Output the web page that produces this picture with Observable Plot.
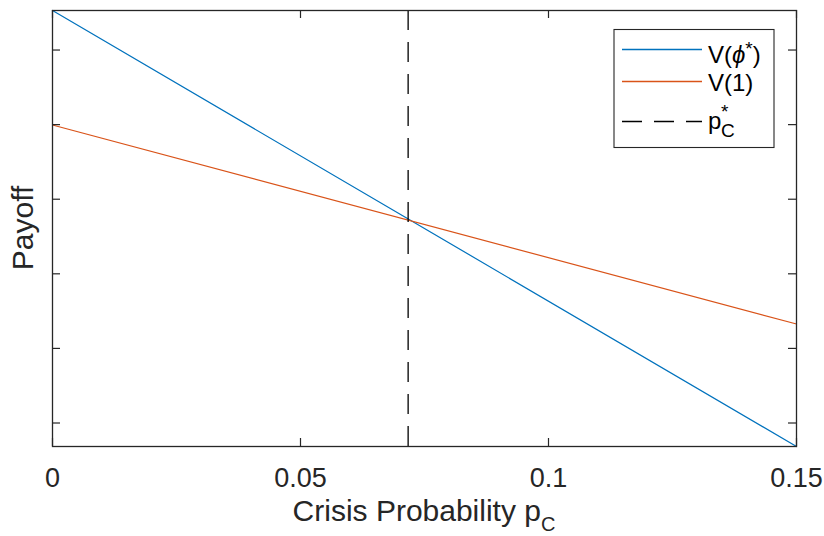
<!DOCTYPE html>
<html>
<head>
<meta charset="utf-8">
<script src="https://cdn.jsdelivr.net/npm/d3@7"></script>
<script src="https://cdn.jsdelivr.net/npm/@observablehq/plot@0.6"></script>
<style>
  html, body { margin: 0; padding: 0; background: white; }
</style>
</head>
<body>
<div id="chart"></div>
<script>
// ---- data ----
const xValues = [0, 0.15];                 // crisis probability p_C
const vPhiStar = [5.53, -0.315];           // V(phi*)
const vOne = [3.995, 1.327];               // V(1)
const pStar = [0.0717];                    // p_C^*
const xTicks = [0, 0.05, 0.1, 0.15];
const xTickLabels = ["0", "0.05", "0.1", "0.15"];
const yTicks = [0, 1, 2, 3, 4, 5];
const yDomain = [-0.315, 5.53];
const seriesNames = ["V(ϕ*)", "V(1)", "p_C^*"];
const seriesColors = ["#0072BD", "#D95319", "#000000"];

const W = 824, H = 536;
const mL = 52, mR = 28, mT = 10, mB = 90;
const plotW = W - mL - mR, plotH = H - mT - mB;
const axisColor = "#262626";
const font = "'Liberation Sans', Arial, Helvetica, sans-serif";

const blueData = xValues.map((x, i) => ({x, y: vPhiStar[i]}));
const redData = xValues.map((x, i) => ({x, y: vOne[i]}));

const svg = Plot.plot({
  width: W, height: H,
  marginLeft: mL, marginRight: mR, marginTop: mT, marginBottom: mB,
  style: {fontFamily: font, background: "white", overflow: "visible"},
  x: {domain: [0, 0.15], axis: null},
  y: {domain: yDomain, axis: null},
  marks: [
    Plot.line(blueData, {x: "x", y: "y", stroke: seriesColors[0], strokeWidth: 1.2}),
    Plot.line(redData, {x: "x", y: "y", stroke: seriesColors[1], strokeWidth: 1.2}),
    Plot.ruleX(pStar, {x: d => d, stroke: seriesColors[2], strokeWidth: 1.3, strokeDasharray: "20,12"}),
    // inward ticks on all four sides
    Plot.ruleX(xTicks, {x: d => d, insetTop: plotH - 8, stroke: axisColor, strokeWidth: 1.2}),
    Plot.ruleX(xTicks, {x: d => d, insetBottom: plotH - 8, stroke: axisColor, strokeWidth: 1.2}),
    Plot.ruleY(yTicks, {y: d => d, insetRight: plotW - 8, stroke: axisColor, strokeWidth: 1.2}),
    Plot.ruleY(yTicks, {y: d => d, insetLeft: plotW - 8, stroke: axisColor, strokeWidth: 1.2}),
    Plot.frame({stroke: axisColor, strokeWidth: 1.3}),
    Plot.axisX(xTicks, {
      anchor: "bottom", tickSize: 0, tickPadding: 21, fontSize: 27,
      fill: axisColor, label: null,
      tickFormat: d => xTickLabels[xTicks.indexOf(d)]
    })
  ]
});

const s = d3.select(svg);

// y label
s.append("text")
  .attr("transform", `translate(33,${mT + plotH / 2}) rotate(-90)`)
  .attr("text-anchor", "middle")
  .attr("fill", axisColor)
  .style("font-size", "30px")
  .style("font-family", font)
  .text("Payoff");

// x label with subscript
const xl = s.append("text")
  .attr("x", mL + plotW / 2)
  .attr("y", 521)
  .attr("text-anchor", "middle")
  .attr("fill", axisColor)
  .style("font-size", "30px")
  .style("font-family", font);
xl.append("tspan").text("Crisis Probability p");
xl.append("tspan").attr("dy", 10).style("font-size", "20px").text("C");

// legend
const lg = s.append("g").style("font-family", font).attr("text-anchor", "start");
lg.append("rect")
  .attr("x", 614).attr("y", 29.5).attr("width", 160).attr("height", 118)
  .style("fill", "white").style("stroke", axisColor).style("stroke-width", 1.1);

const rowY = [49.5, 81.5, 121.5];
const rowDash = [null, null, "20,12"];
rowY.forEach((y, i) => {
  const p = lg.append("path")
    .attr("d", `M622,${y}H702`)
    .attr("fill", "none")
    .attr("stroke", seriesColors[i])
    .attr("stroke-width", 1.4);
  if (rowDash[i]) p.attr("stroke-dasharray", rowDash[i]);
});

const t1 = lg.append("text").attr("x", 708).attr("y", 63)
  .attr("text-anchor", "start")
  .style("fill", "black").style("font-size", "24px");
t1.append("tspan").text("V(");
t1.append("tspan").style("font-style", "italic").text("ϕ");
t1.append("tspan").attr("dy", -8).style("font-size", "19px").text("*");
t1.append("tspan").attr("dy", 8).text(")");

lg.append("text").attr("x", 708).attr("y", 90.5)
  .attr("text-anchor", "start")
  .style("fill", "black").style("font-size", "24px").text("V(1)");

lg.append("text").attr("x", 708).attr("y", 128.5)
  .attr("text-anchor", "start")
  .style("fill", "black").style("font-size", "24px").text("p");
lg.append("text").attr("x", 721).attr("y", 118)
  .attr("text-anchor", "start")
  .style("fill", "black").style("font-size", "19px").text("*");
lg.append("text").attr("x", 721).attr("y", 137)
  .attr("text-anchor", "start")
  .style("fill", "black").style("font-size", "19px").text("C");

document.getElementById("chart").appendChild(svg);
</script>
</body>
</html>
